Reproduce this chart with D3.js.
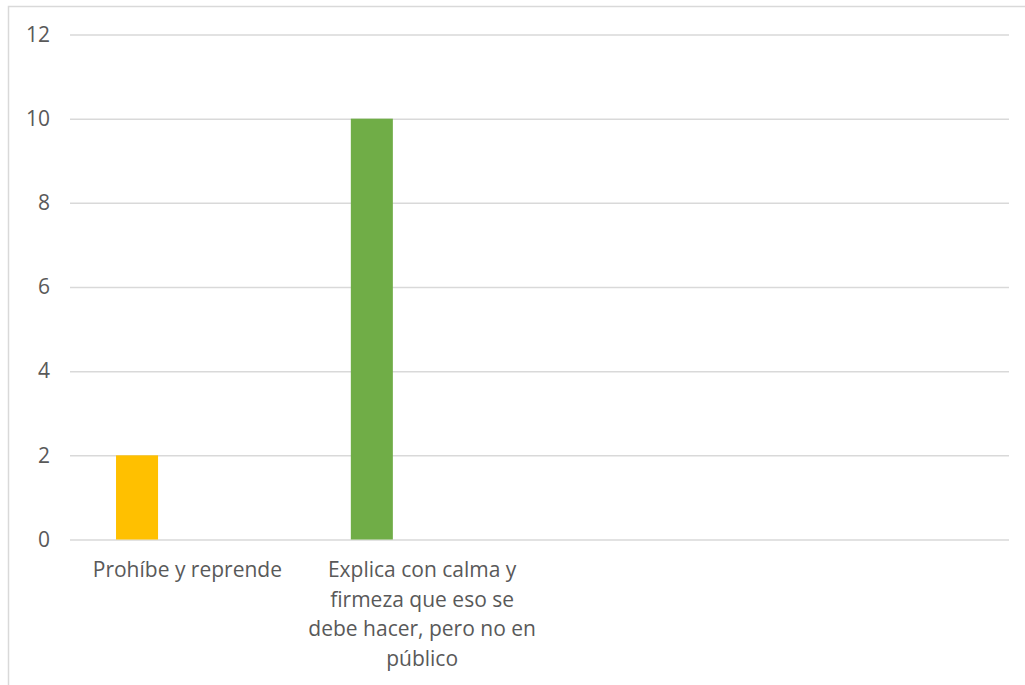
<!DOCTYPE html>
<html>
<head>
<meta charset="utf-8">
<script src="https://cdn.jsdelivr.net/npm/d3@7"></script>
<style>
  html, body { margin: 0; padding: 0; background: #ffffff; }
  svg { display: block; font-family: "Open Sans", "Liberation Sans", sans-serif; }
</style>
</head>
<body>
<svg id="chart" width="1025" height="685"></svg>
<script>
// ---- data ----
const categories = [
  "Prohíbe y reprende",
  "Explica con calma y\nfirmeza que eso se\ndebe hacer, pero no en\npúblico",
  "",
  " "
];
const values = [2, 10, null, null];
const barColors = ["#FFC000", "#70AD47", "#5B9BD5", "#ED7D31"];
const yTicks = [0, 2, 4, 6, 8, 10, 12];

// ---- layout ----
const svg = d3.select("#chart");
const plotLeft = 70, plotRight = 1009, plotTop = 34.5, plotBottom = 539.5;

// chart border (extends past the right and bottom edges)
svg.append("rect")
  .attr("x", 8.5).attr("y", 6.5)
  .attr("width", 1040).attr("height", 700)
  .attr("fill", "none").attr("stroke", "#d9d9d9").attr("stroke-width", 1.5);

const y = d3.scaleLinear().domain([0, 12]).range([plotBottom, plotTop]);

const xCat = d3.scaleBand().domain(categories).range([plotLeft, plotRight]).padding(0);
const xBar = d3.scaleBand().domain(categories).range([plotLeft, plotRight])
  .paddingInner(0.821).paddingOuter(0.41).align(0.239);

// gridlines
const yAxis = d3.axisLeft(y).tickValues(yTicks).tickSize(-(plotRight - plotLeft)).tickPadding(20).tickFormat(d3.format("d"));
const gy = svg.append("g").attr("transform", `translate(${plotLeft},0)`).call(yAxis);
gy.select(".domain").remove();
gy.selectAll(".tick line").attr("stroke", "#d9d9d9").attr("stroke-width", 1.5);
gy.selectAll(".tick text")
  .attr("fill", "#595959")
  .style("font-size", "21px")
  .style("font-family", "'Open Sans', sans-serif");

// bars
const data = categories.map((c, i) => ({ c, v: values[i], color: barColors[i] }))
  .filter(d => d.v != null);
svg.append("g").selectAll("rect")
  .data(data)
  .join("rect")
  .attr("x", d => xBar(d.c))
  .attr("width", xBar.bandwidth())
  .attr("y", d => y(d.v))
  .attr("height", d => y(0) - y(d.v))
  .attr("fill", d => d.color);

// category labels
const lab = svg.append("g").selectAll("text")
  .data(categories.filter(c => c.trim() !== ""))
  .join("text")
  .attr("x", d => xCat(d) + xCat.bandwidth() / 2)
  .attr("y", 577)
  .attr("text-anchor", "middle")
  .attr("fill", "#595959")
  .style("font-size", "21px");
lab.each(function(d) {
  const t = d3.select(this);
  const x = t.attr("x");
  d.split("\n").forEach((line, i) => {
    t.append("tspan").attr("x", x).attr("dy", i === 0 ? 0 : 29.5).text(line);
  });
});
</script>
</body>
</html>
